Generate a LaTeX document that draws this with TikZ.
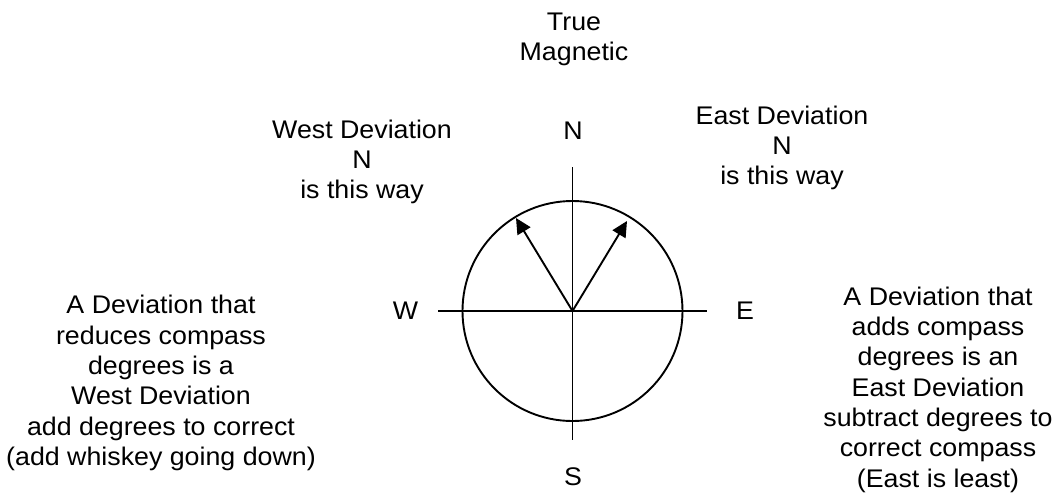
\documentclass[tikz,border=0pt]{standalone}
\usepackage{fontspec}
\setmainfont[FakeStretch=1.05]{Liberation Sans}
\usetikzlibrary{arrows.meta}
\begin{document}
\begin{tikzpicture}[x=1pt,y=-1pt,
  lbl/.style={font=\fontsize{25.5}{30.3}\selectfont, align=center, inner sep=0pt},
  ln/.style={line width=1.9pt},
  vec/.style={line width=1.9pt, -{Triangle[length=15.5pt,width=15pt]}}]
\useasboundingbox (0,0) rectangle (1058,496);
\coordinate (c) at (572.5,311);
\coordinate (ntop) at (572.5,167);
\coordinate (sbot) at (572.5,440);
\coordinate (wend) at (438,311);
\coordinate (eend) at (707,311);
\coordinate (wtip) at (516,218);
\coordinate (etip) at (627,221);
\draw[ln] (c) circle (110);
\draw[ln] (ntop) -- (sbot);
\draw[ln] (wend) -- (eend);
\draw[vec] (c) -- (wtip);
\draw[vec] (c) -- (etip);
\node[lbl] (tm) at (574,39.5) {True\\Magnetic};
\node[lbl] (n) at (573,131) {N};
\node[lbl] (s) at (573,477) {S};
\node[lbl] (w) at (405.5,311) {W};
\node[lbl] (e) at (745,311) {E};
\node[lbl] (wdev) at (362,162) {West Deviation\\N\\is this way};
\node[lbl] (edev) at (782,148) {East Deviation\\N\\is this way};
\node[lbl] (left) at (161,383) {A Deviation that\\reduces compass\\degrees is a\\West Deviation\\add degrees to correct\\(add whiskey going down)};
\node[lbl] (right) at (938,389.5) {A Deviation that\\adds compass\\degrees is an\\East Deviation\\subtract degrees to\\correct compass\\(East is least)};
\end{tikzpicture}
\end{document}
